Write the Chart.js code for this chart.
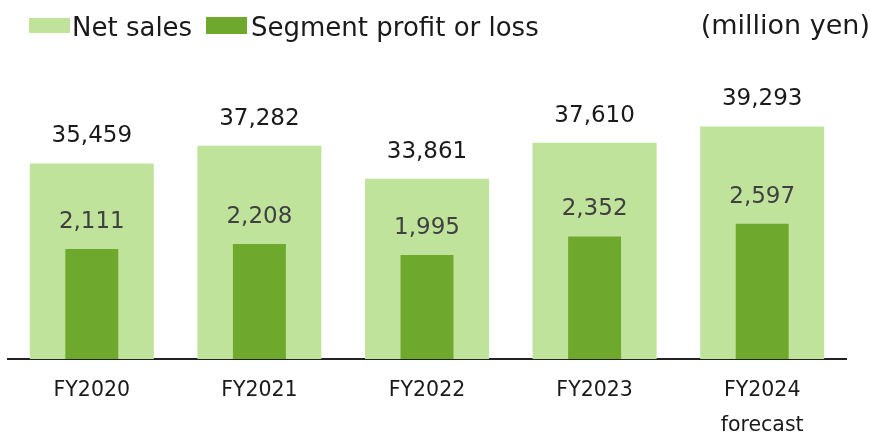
<!DOCTYPE html>
<html>
<head>
<meta charset="utf-8">
<script src="https://cdn.jsdelivr.net/npm/chart.js"></script>
<style>
  body { margin:0; padding:0; background:#fff; font-family:"DejaVu Sans", sans-serif; }
  #wrap { position:relative; width:870px; height:432px; overflow:hidden; }
  .key { position:absolute; }
  .txt { position:absolute; font-size:26px; line-height:26px; color:#1a1a1a; white-space:nowrap; }
</style>
</head>
<body>
<div id="wrap">
  <canvas id="canvas"></canvas>
  <div class="key" style="left:29px;top:18px;width:41px;height:15px;background:#C0E39B"></div>
  <div class="txt" style="left:72px;top:14px">Net sales</div>
  <div class="key" style="left:206px;top:17px;width:41px;height:17px;background:#6EA92E"></div>
  <div class="txt" style="left:251px;top:14px">Segment profit or loss</div>
  <div class="txt" style="right:0;top:11px;font-size:27px;line-height:27px">(million yen)</div>
</div>
<script>
const years = [['FY2020'], ['FY2021'], ['FY2022'], ['FY2023'], ['FY2024', 'forecast']];
const netSales = [35459, 37282, 33861, 37610, 39293];
const segmentProfit = [2111, 2208, 1995, 2352, 2597];

const fmt = v => v.toLocaleString('en-US');

// writes the value above each bar
const valueLabels = {
    id: 'valueLabels',
    afterDatasetsDraw(chart) {
        const ctx = chart.ctx;
        ctx.save();
        ctx.font = '23px "DejaVu Sans"';
        ctx.textAlign = 'center';
        ctx.textBaseline = 'alphabetic';
        chart.data.datasets.forEach((ds, i) => {
            ctx.fillStyle = ds.labelColor;
            chart.getDatasetMeta(i).data.forEach((bar, j) => {
                ctx.fillText(fmt(ds.data[j]), bar.x, bar.y - 21);
            });
        });
        ctx.restore();
    }
};

let chart = new Chart(document.getElementById('canvas'), {
    type: 'bar',
    data: {
        labels: years,
        datasets: [
            {label: 'Net sales', data: netSales, yAxisID: 'ySales', backgroundColor: '#C0E39B',
             labelColor: '#1a1a1a', grouped: false, order: 2, barPercentage: 0.74, categoryPercentage: 1},
            {label: 'Segment profit or loss', data: segmentProfit, yAxisID: 'yProfit', backgroundColor: '#6EA92E',
             labelColor: '#404040', grouped: false, order: 1, barPercentage: 0.316, categoryPercentage: 1}
        ]
    },
    options: {
        responsive: true,
        maintainAspectRatio: false,
        animation: false,
        events: [],
        layout: {padding: {top: 60, left: 8, right: 24, bottom: 0}},
        plugins: {legend: {display: false}, tooltip: {enabled: false}},
        scales: {
            x: {
                grid: {display: false, drawTicks: false},
                border: {display: true, color: '#222', width: 2},
                ticks: {color: '#1a1a1a', padding: 14, font: {family: 'DejaVu Sans', size: 20.5, lineHeight: 1.72}},
                afterFit: s => { s.height = 73; }
            },
            ySales: {display: false, min: 15170, max: 46190},
            yProfit: {display: false, min: 0, max: 5738}
        }
    },
    plugins: [valueLabels]
});
</script>
</body>
</html>
